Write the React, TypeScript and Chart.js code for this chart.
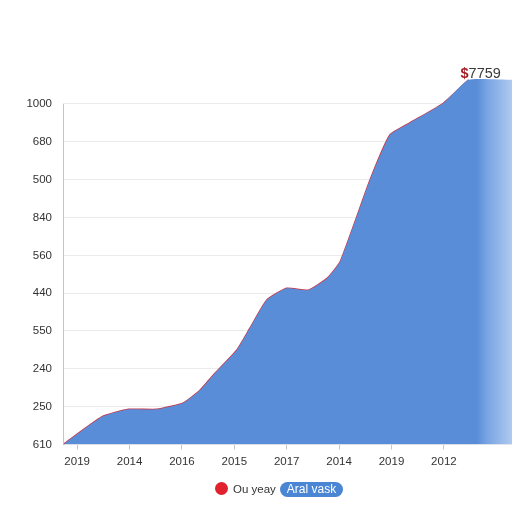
import React, { useEffect, useRef } from "react";
import { Chart, registerables } from "chart.js";

Chart.register(...registerables);

const yTickLabels = ["610", "250", "240", "550", "440", "560", "840", "500", "680", "1000"];
const xTickLabels = ["2019", "2014", "2016", "2015", "2017", "2014", "2019", "2012"];
const seriesX = [-0.27, 0.47, 0.98, 1.52, 2.03, 2.35, 2.6, 3.05, 3.3, 3.62, 4.0, 4.41, 4.77, 5.02, 5.59, 5.97, 6.35, 6.99, 7.47, 8.3];
const seriesY = [0, 0.73, 0.93, 0.93, 1.1, 1.44, 1.84, 2.5, 3.08, 3.82, 4.13, 4.08, 4.39, 4.83, 6.99, 8.18, 8.5, 9.02, 9.64, 9.64];
const peakIndex = 18;
const peakLabel = "7759";
const legendLabels = ["Ou yeay", "Aral vask"];

export default function App() {
  const ref = useRef<HTMLCanvasElement | null>(null);

  useEffect(() => {
    if (!ref.current) return;
    const data = seriesX.map((x, i) => ({ x, y: seriesY[i] }));
    const lineData = data.slice(0, peakIndex + 1);

    const overlay = {
      id: "overlay",
      afterDatasetsDraw(chart: any) {
        const { ctx, chartArea, scales } = chart;
        const ys = scales.y;
        ctx.save();
        ctx.strokeStyle = "#c4c4c4";
        ctx.lineWidth = 1;
        ctx.beginPath();
        ctx.moveTo(chartArea.left + 0.5, ys.getPixelForValue(9));
        ctx.lineTo(chartArea.left + 0.5, chartArea.bottom);
        ctx.stroke();
        const meta = chart.getDatasetMeta(1);
        const pt = meta.data[peakIndex];
        ctx.textBaseline = "alphabetic";
        ctx.textAlign = "left";
        const x0 = pt.x - 8;
        const yb = pt.y - 2;
        ctx.fillStyle = "#a31d24";
        ctx.font = "bold 14.5px 'Liberation Sans', Arial, sans-serif";
        ctx.fillText("$", x0, yb);
        const w = ctx.measureText("$").width;
        ctx.font = "14.5px 'Liberation Sans', Arial, sans-serif";
        ctx.fillStyle = "#3a3a3a";
        ctx.fillText(peakLabel, x0 + w, yb);
        ctx.restore();
      },
    };

    const chart = new Chart(ref.current, {
      type: "line",
      data: {
        datasets: [
          {
            label: legendLabels[1],
            data,
            borderWidth: 0,
            borderColor: "rgba(0,0,0,0)",
            pointRadius: 0,
            tension: 0.15,
            fill: "origin",
            backgroundColor: (c: any) => {
              const ca = c.chart.chartArea;
              if (!ca) return "#5a8dd8";
              const g = c.chart.ctx.createLinearGradient(ca.left, 0, ca.right, 0);
              const f = (px: number) => (px - ca.left) / (ca.right - ca.left);
              g.addColorStop(0, "#5a8dd8");
              g.addColorStop(Math.min(1, f(477)), "#5a8dd8");
              g.addColorStop(Math.min(1, f(487)), "#79a4e2");
              g.addColorStop(Math.min(1, f(500)), "#94b7ea");
              g.addColorStop(1, "#b0caf0");
              return g;
            },
          },
          {
            label: legendLabels[0],
            data: lineData,
            borderColor: "#c23a4e",
            borderWidth: 1.5,
            pointRadius: 0,
            tension: 0.15,
            fill: false,
          },
        ],
      },
      options: {
        animation: false,
        responsive: false,
        maintainAspectRatio: false,
        layout: { padding: { top: 76, right: 0, left: 0, bottom: 0 } },
        plugins: { legend: { display: false }, tooltip: { enabled: false } },
        scales: {
          x: {
            type: "linear",
            min: -0.27,
            max: 8.3,
            afterBuildTicks: (axis: any) => {
              axis.ticks = xTickLabels.map((_, i) => ({ value: i }));
            },
            afterFit: (axis: any) => {
              axis.height = 67.5;
            },
            border: { display: false },
            grid: {
              drawOnChartArea: false,
              drawTicks: true,
              tickLength: 5,
              color: "#c8c8c8",
            },
            ticks: {
              padding: 5,
              maxRotation: 0,
              autoSkip: false,
              color: "#333333",
              font: { family: "'Liberation Sans', Arial, sans-serif", size: 11.5 },
              callback: (v: any) => xTickLabels[Math.round(Number(v))] ?? "",
            },
          },
          y: {
            type: "linear",
            min: 0,
            max: 9.74,
            afterBuildTicks: (axis: any) => {
              axis.ticks = yTickLabels.map((_, i) => ({ value: i }));
            },
            afterFit: (axis: any) => {
              axis.width = 63;
            },
            border: { display: false },
            grid: { drawTicks: false, color: "#ebebeb", lineWidth: 1 },
            ticks: {
              padding: 11,
              autoSkip: false,
              color: "#333333",
              font: { family: "'Liberation Sans', Arial, sans-serif", size: 11.5 },
              callback: (v: any) => yTickLabels[Math.round(Number(v))] ?? "",
            },
          },
        },
      },
      plugins: [overlay],
    } as any);

    return () => chart.destroy();
  }, []);

  return (
    <div style={{ position: "fixed", left: 0, top: 0, width: 512, height: 512, background: "#fff", fontFamily: "'Liberation Sans', Arial, sans-serif" }}>
      <canvas ref={ref} width={512} height={512} style={{ position: "absolute", left: 0, top: 0, width: 512, height: 512 }} />
      <div style={{ position: "absolute", left: 214.5, top: 482, width: 13, height: 13, borderRadius: "50%", background: "#e0222e" }} />
      <div style={{ position: "absolute", left: 233, top: 481, fontSize: 11.5, lineHeight: "16px", color: "#333", whiteSpace: "nowrap" }}>{legendLabels[0]}</div>
      <div style={{ position: "absolute", left: 280, top: 482, width: 63, height: 15, borderRadius: 8, background: "#4a86d4", color: "#fff", fontSize: 12, lineHeight: "15px", textAlign: "center", whiteSpace: "nowrap" }}>{legendLabels[1]}</div>
    </div>
  );
}
